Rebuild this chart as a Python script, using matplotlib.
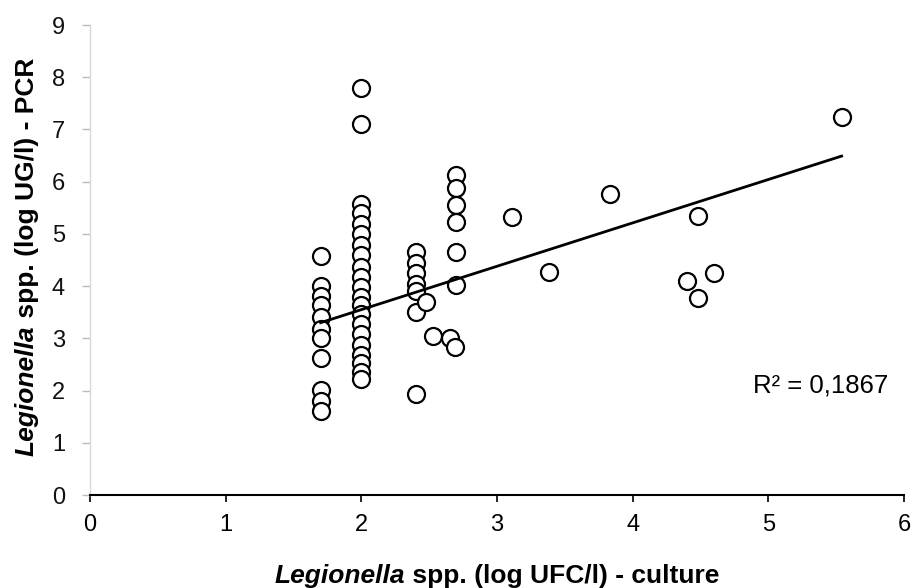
import numpy as np
import matplotlib
matplotlib.use("Agg")
import matplotlib.pyplot as plt

plt.rcParams["font.family"] = ["Liberation Sans", "DejaVu Sans"]

# culture (log UFC/l) vs PCR (log UG/l)
x_1_7 = [1.7] * 11
y_1_7 = [4.58, 4.0, 3.82, 3.63, 3.4, 3.18, 3.0, 2.62, 2.02, 1.8, 1.6]

x_2_0 = [2.0] * 21
y_2_0 = [7.8, 7.1, 5.58, 5.4, 5.18, 4.99, 4.79, 4.6, 4.37, 4.18, 3.98, 3.79,
         3.63, 3.47, 3.27, 3.08, 2.88, 2.69, 2.53, 2.36, 2.22]

x_2_4 = [2.4] * 7
y_2_4 = [4.65, 4.45, 4.25, 4.05, 3.9, 3.5, 1.93]

x_2_7 = [2.7] * 6
y_2_7 = [6.12, 5.88, 5.55, 5.22, 4.66, 4.02]

x_other = [2.48, 2.53, 2.65, 2.69, 3.11, 3.38, 3.83, 4.48, 4.60, 4.40, 4.48, 5.54]
y_other = [3.7, 3.05, 3.0, 2.83, 5.32, 4.27, 5.77, 5.35, 4.25, 4.09, 3.78, 7.24]

# trend line as drawn (Excel linear fit)
trend_x = [1.7, 5.54]
trend_y = [3.3, 6.49]
r2_text = "R\u00b2 = 0,1867"

x_all = x_1_7 + x_2_0 + x_2_4 + x_2_7 + x_other
y_all = y_1_7 + y_2_0 + y_2_4 + y_2_7 + y_other

W, H = 912, 588
fig = plt.figure(figsize=(W / 100, H / 100), dpi=100)
ax = fig.add_axes([90 / W, 93 / H, 814 / W, 470 / H])

ax.scatter(x_all, y_all, s=150, facecolors="white", edgecolors="black",
           linewidths=1.6, zorder=3)
ax.plot(trend_x, trend_y, color="black", lw=2, zorder=4)

ax.set_xlim(0, 6)
ax.set_ylim(0, 9)
ax.set_xticks(range(0, 7))
ax.set_yticks(range(0, 10))

for s in ["top", "right"]:
    ax.spines[s].set_visible(False)
ax.spines["bottom"].set_color("black")
ax.spines["bottom"].set_linewidth(1.5)
ax.spines["left"].set_color("#d8d8d8")
ax.spines["left"].set_linewidth(1.0)
ax.tick_params(axis="x", direction="out", length=5, width=1.2, colors="black",
               labelsize=17, pad=9)
ax.tick_params(axis="y", direction="out", length=6, width=1.0, color="#bbbbbb",
               labelcolor="#111111", labelsize=17, pad=12)

ax.text(4.89, 2.09, r2_text, fontsize=18.5, ha="left", va="center")

# axis titles: genus in bold italic, rest in bold
fig.canvas.draw()
r = fig.canvas.get_renderer()

t1 = fig.text(0, (H - 576) / H, "Legionella", fontsize=19, fontweight="bold",
              fontstyle="italic", va="center", ha="left")
t2 = fig.text(0, (H - 576) / H, " spp. (log UFC/l) - culture", fontsize=19,
              fontweight="bold", va="center", ha="left")
w1 = t1.get_window_extent(r).width
w2 = t2.get_window_extent(r).width
x0 = 497 - (w1 + w2) / 2
t1.set_x(x0 / W)
t2.set_x((x0 + w1) / W)

t3 = fig.text(27 / W, 0, "Legionella", fontsize=19, fontweight="bold",
              fontstyle="italic", rotation=90, va="bottom", ha="center")
t4 = fig.text(27 / W, 0, " spp. (log UG/l) - PCR", fontsize=19,
              fontweight="bold", rotation=90, va="bottom", ha="center")
h1 = t3.get_window_extent(r).height
h2 = t4.get_window_extent(r).height
y0 = (H - 257) - (h1 + h2) / 2
t3.set_y(y0 / H)
t4.set_y((y0 + h1) / H)

fig.savefig("out.png", dpi=100)
